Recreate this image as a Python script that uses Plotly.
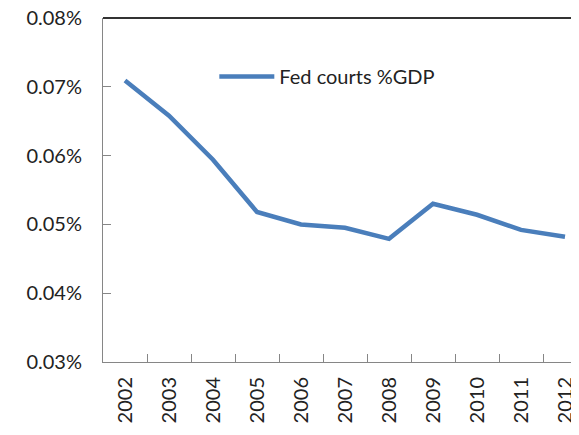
import plotly.graph_objects as go

YEARS = ["2002", "2003", "2004", "2005", "2006", "2007",
         "2008", "2009", "2010", "2011", "2012"]
FED_COURTS_PCT_GDP = [0.0709, 0.0658, 0.0594, 0.0518, 0.0500, 0.0495,
                      0.0479, 0.0530, 0.0514, 0.0492, 0.0482]
Y_TICKS = [0.03, 0.04, 0.05, 0.06, 0.07, 0.08]
Y_TICK_LABELS = ["0.03%", "0.04%", "0.05%", "0.06%", "0.07%", "0.08%"]

LINE_COLOR = "#4A7EBB"
AXIS_COLOR = "#868686"
FONT = dict(family="Lato, Open Sans, sans-serif", size=20, color="#222222")

fig = go.Figure(go.Scatter(
    x=YEARS, y=FED_COURTS_PCT_GDP,
    mode="lines",
    name="Fed courts %GDP",
    line=dict(color=LINE_COLOR, width=4.5),
))

# page body has an 8px margin, so the figure is shifted by 8px;
# margins below compensate for that offset
fig.update_layout(
    width=579, height=435,
    margin=dict(l=95, r=0, t=10, b=81),
    plot_bgcolor="white",
    paper_bgcolor="white",
    font=FONT,
    showlegend=True,
    legend=dict(x=0.23, y=0.83, xanchor="left", yanchor="middle",
                bgcolor="rgba(0,0,0,0)", itemwidth=55,
                font=FONT),
)

fig.update_xaxes(
    type="category",
    range=[-0.5, 10.5],
    tickangle=-90,
    tickson="boundaries",
    ticks="inside", ticklen=8, tickcolor=AXIS_COLOR,
    showline=True, linecolor=AXIS_COLOR, linewidth=1,
    showgrid=False,
    ticklabelstandoff=6,
    ticklabeloverflow="allow",
    automargin=False,
)

fig.update_yaxes(
    range=[0.03, 0.08],
    tickvals=Y_TICKS,
    ticktext=Y_TICK_LABELS,
    ticks="inside", ticklen=8, tickcolor=AXIS_COLOR,
    showline=True, linecolor=AXIS_COLOR, linewidth=1,
    showgrid=False, zeroline=False,
    ticklabelstandoff=16,
    ticklabeloverflow="allow",
    automargin=False,
)

# top border line of the plot area
fig.add_shape(type="line", xref="paper", yref="paper",
              x0=0, x1=1, y0=1, y1=1, layer="above",
              line=dict(color="#333333", width=2))

fig.write_html("out.html")
